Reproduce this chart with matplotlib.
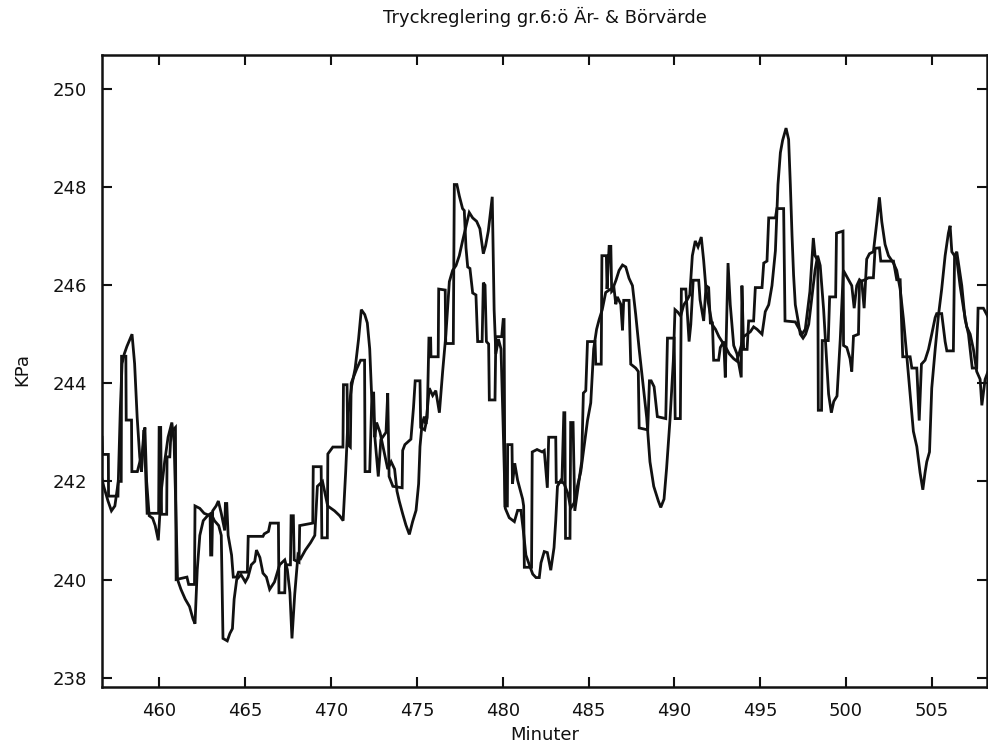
import matplotlib
matplotlib.use("Agg")
import matplotlib.pyplot as plt

# ---- data (minutes, kPa) ----
# Actual value ("Är")
a_min = [456.65, 456.75, 457.0, 457.2, 457.4, 457.6, 457.72, 457.82, 457.95, 458.1, 458.4, 458.55, 458.7, 458.85,
         458.95, 459.05, 459.15, 459.25, 459.4, 459.6, 459.75, 459.93, 460.1, 460.3, 460.5, 460.72, 460.85, 460.95,
         461.05, 461.25, 461.5, 461.75, 461.95, 462.07, 462.2, 462.35, 462.55, 462.8, 463.0, 463.2, 463.45, 463.6,
         463.7, 463.95, 464.1, 464.25, 464.35, 464.5, 464.75, 465.0, 465.16, 465.35, 465.55, 465.65, 465.85, 466.03,
         466.23, 466.42, 466.7, 467.0, 467.3, 467.45, 467.6, 467.72, 467.88, 468.07, 468.23, 468.5, 468.8, 469.05,
         469.2, 469.5, 469.8, 470.2, 470.5, 470.7, 470.85, 471.0, 471.2, 471.4, 471.6, 471.76, 471.96, 472.11,
         472.25, 472.35, 472.45, 472.55, 472.65, 472.85, 473.3, 473.5, 473.7, 473.84, 473.97, 474.17, 474.36,
         474.56, 474.75, 474.95, 475.1, 475.18, 475.3, 475.43, 475.53, 475.72, 475.92, 476.1, 476.31, 476.5,
         476.69, 476.89, 477.08, 477.28, 477.47, 477.66, 477.86, 478.05, 478.25, 478.48, 478.67, 478.87, 479.0,
         479.16, 479.39, 479.5, 479.6, 479.75, 479.9, 480.02, 480.15, 480.38, 480.68, 480.87, 481.06, 481.2,
         481.35, 481.55, 481.75, 481.94, 482.13, 482.23, 482.42, 482.6, 482.8, 482.99, 483.09, 483.19, 483.38,
         483.58, 483.8, 483.96, 484.16, 484.35, 484.55, 484.74, 484.94, 485.13, 485.3, 485.47, 485.62, 485.8,
         486.0, 486.2, 486.44, 486.6, 486.78, 486.98, 487.17, 487.36, 487.56, 487.75, 487.95, 488.14, 488.39,
         488.58, 488.8, 489.07, 489.21, 489.4, 489.55, 489.75, 489.94, 490.04, 490.2, 490.37, 490.55, 490.75,
         490.9, 491.05, 491.22, 491.38, 491.57, 491.71, 491.85, 492.0, 492.2, 492.4, 492.6, 492.78, 492.97,
         493.2, 493.46, 493.65, 493.85, 494.04, 494.24, 494.43, 494.62, 494.82, 495.11, 495.3, 495.5, 495.69,
         495.89, 496.04, 496.18, 496.31, 496.51, 496.66, 496.76, 496.86, 496.95, 497.05, 497.2, 497.34, 497.5,
         497.65, 497.83, 498.0, 498.2, 498.35, 498.5, 498.7, 498.85, 498.99, 499.15, 499.29, 499.48, 499.67,
         499.85, 500.09, 500.34, 500.48, 500.63, 500.79, 500.92, 501.06, 501.21, 501.37, 501.6, 501.8, 501.95,
         502.09, 502.28, 502.48, 502.77, 502.96, 503.16, 503.35, 503.55, 503.74, 503.93, 504.13, 504.32, 504.48,
         504.61, 504.71, 504.87, 505.0, 505.2, 505.39, 505.58, 505.78, 505.97, 506.07, 506.17, 506.46, 506.65,
         506.85, 507.04, 507.24, 507.43, 507.62, 507.82, 507.92, 508.11, 508.28]
a_kpa = [242.05, 241.9, 241.6, 241.4, 241.5, 242.0, 243.5, 244.4, 244.6, 244.75, 245.0, 244.4, 243.3, 242.5,
         242.2, 242.7, 243.1, 242.0, 241.3, 241.25, 241.1, 240.8, 241.8, 242.4, 242.9, 243.2, 242.8, 241.5,
         240.0, 239.8, 239.6, 239.45, 239.2, 239.1, 240.2, 240.9, 241.2, 241.3, 241.35, 241.2, 241.1, 240.9,
         238.8, 238.75, 238.9, 239.0, 239.6, 240.0, 240.1, 239.95, 240.05, 240.3, 240.37, 240.6, 240.45, 240.13,
         240.05, 239.8, 239.95, 240.3, 240.4, 240.2, 239.73, 238.8, 239.7, 240.5, 240.43, 240.6, 240.75, 240.9,
         241.9, 242.0, 241.5, 241.4, 241.3, 241.2, 242.2, 243.4, 243.95, 244.3, 244.9, 245.5, 245.4, 245.23,
         244.7, 243.85, 243.47, 242.9, 243.2, 243.0, 242.25, 242.4, 242.25, 241.8, 241.6, 241.34, 241.11,
         240.92, 241.18, 241.41, 241.95, 242.71, 243.17, 243.32, 243.17, 243.9, 243.75, 243.85, 243.4, 244.24,
         245.0, 246.07, 246.3, 246.4, 246.6, 246.9, 247.2, 247.48, 247.37, 247.3, 247.15, 246.64, 246.8,
         247.1, 247.8, 245.5, 244.6, 244.9, 244.7, 243.2, 241.45, 241.26, 241.18, 241.41, 241.41, 241.0,
         240.5, 240.3, 240.11, 240.04, 240.04, 240.34, 240.57, 240.55, 240.19, 240.65, 241.2, 241.9, 242.02,
         241.95, 241.75, 241.45, 241.56, 241.9, 242.2, 242.7, 243.24, 243.6, 244.7, 245.1, 245.3, 245.5,
         245.85, 245.9, 245.95, 246.1, 246.3, 246.41, 246.37, 246.14, 245.99, 245.4, 244.7, 244.1, 243.3,
         242.4, 241.9, 241.6, 241.47, 241.64, 242.27, 243.27, 244.45, 245.5, 245.45, 245.37, 245.6, 245.7,
         245.8, 246.6, 246.9, 246.78, 246.98, 246.5, 245.9, 245.6, 245.2, 245.1, 244.95, 244.85, 244.75,
         244.6, 244.5, 244.45, 244.7, 244.95, 245.0, 245.05, 245.15, 245.1, 245.0, 245.46, 245.6, 245.99,
         246.7, 248.05, 248.7, 248.95, 249.2, 248.97, 248.05, 247.0, 246.2, 245.6, 245.3, 245.0, 244.92,
         245.0, 245.2, 245.7, 246.3, 246.6, 246.4, 245.5, 244.6, 243.78, 243.4, 243.63, 243.74, 244.9,
         246.3, 246.15, 245.99, 245.53, 245.99, 246.11, 246.07, 245.53, 246.53, 246.64, 246.68, 247.29, 247.79,
         247.29, 246.83, 246.6, 246.45, 246.3, 245.92, 245.31, 244.54, 243.78, 243.02, 242.71, 242.18, 241.83,
         242.18, 242.4, 242.6, 243.9, 244.69, 245.38, 245.92, 246.6, 247.06, 247.21, 246.68, 246.53, 245.99,
         245.53, 245.15, 245.0, 244.69, 244.24, 244.08, 243.55, 244.08, 244.24]

# Setpoint ("Bör")
s_min = [456.65, 456.68, 457.02, 457.03, 457.58, 457.6, 457.77, 457.79, 458.04, 458.06, 458.37, 458.39, 458.71,
         459.0, 459.1, 459.28, 459.95, 459.98, 460.07, 460.12, 460.42, 460.44, 460.6, 460.67, 460.93, 460.97,
         461.6, 461.7, 462.04, 462.07, 462.35, 462.6, 462.95, 462.98, 463.05, 463.1, 463.3, 463.43, 463.6, 463.8,
         463.84, 463.92, 464.0, 464.2, 464.3, 464.5, 464.6, 465.12, 465.17, 466.03, 466.1, 466.35, 466.45,
         466.93, 466.96, 467.3, 467.34, 467.63, 467.67, 467.8, 467.85, 468.13, 468.17, 468.93, 468.96, 469.42,
         469.46, 469.78, 469.81, 470.1, 470.69, 470.72, 470.93, 470.97, 471.12, 471.17, 471.5, 471.72, 471.95,
         471.98, 472.25, 472.38, 472.48, 472.55, 472.75, 472.9, 473.2, 473.3, 473.38, 473.6, 474.14, 474.17,
         474.3, 474.65, 474.8, 474.9, 475.18, 475.22, 475.45, 475.6, 475.7, 475.8, 475.82, 476.24, 476.27,
         476.65, 476.68, 477.12, 477.18, 477.33, 477.47, 477.66, 477.76, 477.86, 477.96, 478.09, 478.25, 478.44,
         478.54, 478.8, 478.87, 478.97, 479.05, 479.18, 479.22, 479.55, 479.6, 479.94, 480.03, 480.08, 480.13,
         480.27, 480.29, 480.54, 480.57, 480.7, 480.87, 481.16, 481.22, 481.26, 481.68, 481.72, 482.0, 482.3,
         482.42, 482.6, 482.68, 483.09, 483.12, 483.45, 483.56, 483.62, 483.66, 483.92, 483.96, 484.1, 484.2,
         484.4, 484.6, 484.7, 484.84, 484.94, 485.38, 485.42, 485.74, 485.78, 486.04, 486.08, 486.2, 486.3,
         486.35, 486.49, 486.59, 486.68, 486.88, 486.98, 487.05, 487.36, 487.46, 487.75, 487.9, 487.95, 488.45,
         488.55, 488.65, 488.82, 489.01, 489.5, 489.6, 489.99, 490.05, 490.35, 490.41, 490.67, 490.76, 490.86,
         490.96, 491.1, 491.42, 491.5, 491.71, 491.85, 492.0, 492.1, 492.22, 492.29, 492.58, 492.68, 492.88,
         492.97, 493.13, 493.26, 493.46, 493.65, 493.9, 493.94, 494.04, 494.24, 494.33, 494.62, 494.72, 495.11,
         495.21, 495.4, 495.5, 495.89, 495.98, 496.37, 496.45, 497.05, 497.44, 497.63, 497.9, 498.1, 498.2,
         498.36, 498.39, 498.58, 498.62, 498.97, 499.05, 499.4, 499.45, 499.83, 499.86, 500.05, 500.24, 500.34,
         500.44, 500.73, 500.79, 501.12, 501.31, 501.6, 501.7, 501.95, 502.03, 502.77, 502.96, 503.16, 503.31,
         503.74, 503.84, 504.13, 504.27, 504.4, 504.61, 504.81, 505.0, 505.2, 505.29, 505.58, 505.78, 505.88,
         506.26, 506.33, 506.46, 506.75, 506.94, 507.14, 507.36, 507.62, 507.7, 508.01, 508.28]
s_kpa = [242.9, 242.55, 242.55, 241.7, 241.7, 242.0, 242.0, 244.55, 244.55, 243.25, 243.25, 242.2, 242.2,
         242.6, 243.05, 241.35, 241.35, 243.1, 243.1, 241.33, 241.33, 242.5, 242.5, 243.0, 243.1, 240.0,
         240.05, 239.9, 239.9, 241.5, 241.45, 241.35, 241.3, 240.5, 240.5, 241.4, 241.5, 241.6, 241.35, 241.0,
         241.55, 241.55, 240.9, 240.5, 240.05, 240.05, 240.15, 240.15, 240.88, 240.88, 240.93, 240.98, 241.15,
         241.15, 239.73, 239.73, 240.3, 240.3, 241.3, 241.3, 240.4, 240.35, 241.1, 241.15, 242.3, 242.3,
         240.85, 240.85, 242.56, 242.7, 242.7, 243.97, 243.97, 242.75, 242.7, 244.0, 244.3, 244.47, 244.47,
         242.2, 242.2, 243.8, 243.8, 242.9, 242.1, 242.85, 243.0, 243.8, 242.1, 241.9, 241.87, 242.63,
         242.75, 242.86, 243.5, 244.05, 244.05, 243.1, 243.05, 243.3, 244.92, 244.92, 244.54, 244.54, 245.92,
         245.9, 244.81, 244.81, 248.05, 248.05, 247.82, 247.56, 247.52, 246.76, 246.37, 246.34, 245.84, 245.8,
         244.85, 244.85, 246.05, 246.0, 244.85, 244.8, 243.66, 243.66, 244.95, 244.95, 245.3, 245.3, 241.5,
         241.5, 242.75, 242.75, 241.95, 242.37, 242.02, 241.64, 241.5, 240.25, 240.25, 242.6, 242.65, 242.6,
         242.63, 241.87, 242.9, 242.9, 241.98, 241.98, 243.4, 243.4, 240.84, 240.84, 243.2, 243.2, 241.4,
         241.9, 242.4, 243.8, 243.85, 244.85, 244.85, 244.39, 244.39, 246.6, 246.6, 245.92, 246.79, 246.79,
         245.87, 245.92, 245.61, 245.76, 245.61, 245.08, 245.69, 245.69, 244.39, 244.31, 244.24, 243.09, 243.05,
         244.05, 244.05, 243.93, 243.32, 243.28, 244.92, 244.92, 243.28, 243.28, 245.92, 245.92, 245.4, 244.85,
         245.2, 246.1, 246.1, 245.7, 245.27, 245.99, 245.95, 245.23, 245.23, 244.47, 244.47, 244.73, 244.85,
         244.12, 246.45, 245.6, 244.77, 244.6, 244.12, 245.99, 244.69, 244.69, 245.27, 245.27, 245.95, 245.95,
         246.45, 246.49, 247.37, 247.37, 247.56, 247.56, 245.27, 245.25, 245.0, 245.1, 245.87, 246.96, 246.6,
         246.5, 243.45, 243.45, 244.87, 244.87, 245.76, 245.76, 247.06, 247.1, 244.77, 244.73, 244.5, 244.24,
         244.96, 245.0, 246.07, 246.11, 246.15, 246.15, 246.75, 246.76, 246.49, 246.49, 246.11, 246.11, 244.54,
         244.54, 244.31, 244.31, 243.24, 244.39, 244.47, 244.69, 245.0, 245.34, 245.42, 245.42, 244.85, 244.66,
         244.66, 246.6, 246.68, 245.99, 245.31, 245.0, 244.31, 244.31, 245.53, 245.53, 245.35]

x_ticks = [460, 465, 470, 475, 480, 485, 490, 495, 500, 505]
y_ticks = [238, 240, 242, 244, 246, 248, 250]

title = "Tryckreglering gr.6:ö Är- & Börvärde"
x_label = "Minuter"
y_label = "KPa"

# ---- figure ----
plt.rcParams['font.family'] = ['DejaVu Sans']
W, H = 988, 748
fig = plt.figure(figsize=(W / 100, H / 100), dpi=100)
ax = fig.add_axes([102 / W, 1 - 687 / H, (987 - 102) / W, (687 - 55) / H])

ax.plot(a_min, a_kpa, color='#111111', lw=2.0, solid_joinstyle='miter')
ax.plot(s_min, s_kpa, color='#111111', lw=2.0, solid_joinstyle='miter')

ax.set_xlim(456.65, 508.22)
ax.set_ylim(237.81, 250.69)
ax.set_xticks(x_ticks)
ax.set_yticks(y_ticks)
ax.tick_params(direction='in', length=7, width=1.5, top=True, right=True,
               labelsize=13, pad=11, colors='#111111')
for sp in ax.spines.values():
    sp.set_linewidth(1.8)
    sp.set_color('#111111')

fig.text(545 / W, 1 - 17 / H, title, ha='center', va='center', fontsize=13, color='#111111')
fig.text(545 / W, 1 - 735 / H, x_label, ha='center', va='center', fontsize=13, color='#111111')
fig.text(22 / W, 1 - 370 / H, y_label, ha='center', va='center', rotation=90, fontsize=13,
         color='#111111')

fig.savefig("out.png", dpi=100, facecolor='white')
